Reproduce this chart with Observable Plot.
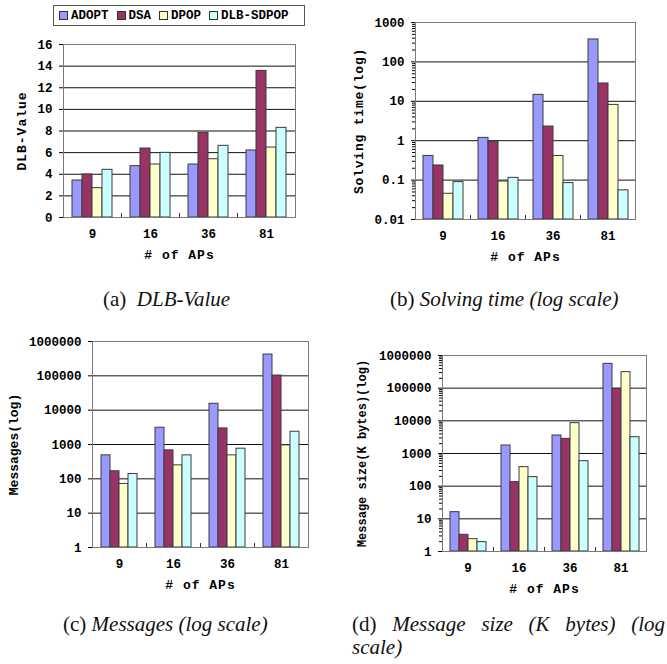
<!DOCTYPE html>
<html>
<head>
<meta charset="utf-8">
<script src="https://cdn.jsdelivr.net/npm/d3@7"></script>
<script src="https://cdn.jsdelivr.net/npm/@observablehq/plot@0.6"></script>
<style>
  html, body { margin: 0; padding: 0; background: #fff; }
  #root { position: relative; width: 667px; height: 664px; overflow: hidden; background: #fff; }
  .panel { position: absolute; }
  .panel svg { overflow: visible; }
  .panel g[aria-label="y-axis label"] text, .panel g[aria-label="fx-axis label"] text { font-size: 13px; }
  .pa g[aria-label="y-axis label"] text { letter-spacing: 1px; }
  .pb g[aria-label="y-axis label"] text { letter-spacing: 0.8px; }
  .pd g[aria-label="y-axis label"] text { font-size: 12px; }
  g[aria-label="fx-axis label"] text { letter-spacing: 1px; }
  .legend { position: absolute; left: 53px; top: 5px; width: 252px; height: 21px; box-sizing: border-box;
    border: 1px solid #555; display: flex; align-items: center; padding-left: 5px; white-space: nowrap;
    font: bold 12.5px "Liberation Mono", monospace; color: #000; }
  .legend .item { display: flex; align-items: center; margin-right: 8px; white-space: nowrap; flex-shrink: 0; }
  .legend .sw { width: 7px; height: 7px; border: 1px solid #333; margin-right: 3px; }
  .cap { position: absolute; font-family: "Liberation Serif", serif; font-size: 21px; line-height: 24px; color: #111; white-space: nowrap; }
  .cap .l1 { display: block; text-align: justify; text-align-last: justify; line-height: 23px; }
  .cap .l2 { display: block; line-height: 23px; }
</style>
</head>
<body>
<div id="root"></div>
<script>
const apCounts = ["9", "16", "36", "81"];
const algorithms = ["ADOPT", "DSA", "DPOP", "DLB-SDPOP"];
const algColors = ["#9999ff", "#993366", "#ffffcc", "#ccffff"];

// rows follow algorithms, columns follow apCounts
const dlbValues = [
  [3.42, 4.75, 4.9, 6.2],
  [3.98, 6.38, 7.83, 13.56],
  [2.71, 4.9, 5.39, 6.47],
  [4.41, 5.98, 6.63, 8.29]
];
const solvingTimes = [
  [0.41, 1.18, 14.6, 371],
  [0.235, 0.94, 2.29, 28.3],
  [0.045, 0.092, 0.41, 8.1],
  [0.089, 0.114, 0.084, 0.055]
];
const messageCounts = [
  [483, 3080, 15350, 417000],
  [166, 675, 2940, 102000],
  [71, 247, 483, 944],
  [138, 483, 755, 2355]
];
const messageSizes = [
  [16, 1758, 3556, 556000],
  [3.24, 133, 2810, 95400],
  [2.39, 382, 8490, 309000],
  [1.93, 189, 582, 3160]
];

const dlbTicks = [0, 2, 4, 6, 8, 10, 12, 14, 16];
const timeTicks = [0.01, 0.1, 1, 10, 100, 1000];
const countTicks = [1, 10, 100, 1000, 10000, 100000, 1000000];

const xLabel = "# of APs";
const yLabels = ["DLB-Value", "Solving time(log)", "Messages(log)", "Message size(K bytes)(log)"];
const captions = [
  ["(a)\u00a0 ", "DLB-Value", ""],
  ["(b) ", "Solving time (log scale)", ""],
  ["(c) ", "Messages (log scale)", ""],
  ["(d) ", "Message size (K bytes) (log", "scale)"]
];

const root = document.getElementById("root");

// legend
const legend = document.createElement("div");
legend.className = "legend";
algorithms.forEach((a, i) => {
  const it = document.createElement("div");
  it.className = "item";
  const sw = document.createElement("span");
  sw.className = "sw";
  sw.style.background = algColors[i];
  it.appendChild(sw);
  it.appendChild(document.createTextNode(a));
  legend.appendChild(it);
});
root.appendChild(legend);

function fmt(d) { return d < 1 ? String(d) : d3.format("d")(d); }

function panel({values, ticks, type, ylabel, minor, box, m, lyo, cls}) {
  const rows = algorithms.flatMap((alg, i) => apCounts.map((ap, j) => ({ap, alg, value: values[i][j]})));
  const base = ticks[0];
  const plotH = box.h - m.t - m.b;
  const marks = [
    Plot.ruleY(ticks, {stroke: "#111", strokeWidth: 1}),
    Plot.barY(rows, {fx: "ap", x: "alg", y1: base, y2: "value", fill: "alg", stroke: "#3a3a3a", strokeWidth: 1}),
    Plot.frame({anchor: "left", insetTop: plotH - 4, stroke: "#333"}),
    Plot.frame({facet: "super", stroke: "#7a7a7a"}),
    Plot.axisY(ticks, {tickSize: 4, tickPadding: 7, tickFormat: fmt, label: ylabel, labelAnchor: "center", labelArrow: "none", labelOffset: lyo}),
    Plot.axisFx({anchor: "bottom", tickSize: 0, tickPadding: 12, label: xLabel, labelAnchor: "center", labelArrow: "none", labelOffset: 41})
  ];
  if (minor) marks.push(Plot.axisY(minor, {tickSize: 3, tickFormat: () => "", label: null}));
  const chart = Plot.plot({
    width: box.w, height: box.h,
    marginLeft: m.l, marginRight: m.r, marginTop: m.t, marginBottom: m.b,
    style: {fontFamily: "'Liberation Mono', monospace", fontSize: "12.5px", fontWeight: "bold", color: "#000", background: "transparent"},
    fx: {domain: apCounts, padding: 0},
    x: {domain: algorithms, paddingInner: 0, paddingOuter: 0.74, axis: null},
    y: {type, domain: [ticks[0], ticks[ticks.length - 1]]},
    color: {domain: algorithms, range: algColors},
    marks
  });
  const wrap = document.createElement("div");
  wrap.className = "panel " + cls;
  wrap.style.left = box.x + "px";
  wrap.style.top = box.y + "px";
  wrap.appendChild(chart);
  root.appendChild(wrap);
}

const timeMinor = d3.scaleLog().domain([0.01, 1000]).ticks().filter(t => !timeTicks.includes(t));
const countMinor = d3.scaleLog().domain([1, 1000000]).ticks().filter(t => !countTicks.includes(t));

panel({values: dlbValues, ticks: dlbTicks, type: "linear", ylabel: yLabels[0], cls: "pa",
  box: {x: 0, y: 30, w: 333, h: 240}, m: {l: 62, r: 38, t: 14, b: 53}, lyo: 47});
panel({values: solvingTimes, ticks: timeTicks, type: "log", ylabel: yLabels[1], minor: timeMinor, cls: "pb",
  box: {x: 333, y: 0, w: 334, h: 270}, m: {l: 80, r: 31, t: 22, b: 51}, lyo: 62});
panel({values: messageCounts, ticks: countTicks, type: "log", ylabel: yLabels[2], cls: "pc",
  box: {x: 0, y: 330, w: 333, h: 270}, m: {l: 91, r: 24, t: 11, b: 53}, lyo: 84});
panel({values: messageSizes, ticks: countTicks, type: "log", ylabel: yLabels[3], minor: countMinor, cls: "pd",
  box: {x: 333, y: 330, w: 334, h: 270}, m: {l: 107, r: 20, t: 25, b: 49}, lyo: 85});

// captions
const capPos = [
  {x: 103, y: 287}, {x: 390, y: 287}, {x: 63, y: 612}, {x: 352, y: 613, w: 313}
];
captions.forEach(([lead, txt, rest], i) => {
  const c = document.createElement("div");
  c.className = "cap";
  c.style.left = capPos[i].x + "px";
  c.style.top = capPos[i].y + "px";
  const it = document.createElement("i");
  it.textContent = txt;
  if (rest) {
    c.style.width = capPos[i].w + "px";
    const l1 = document.createElement("span");
    l1.className = "l1";
    l1.appendChild(document.createTextNode(lead));
    l1.appendChild(it);
    const l2 = document.createElement("i");
    l2.className = "l2";
    l2.textContent = rest;
    c.appendChild(l1);
    c.appendChild(l2);
  } else {
    c.appendChild(document.createTextNode(lead));
    c.appendChild(it);
  }
  root.appendChild(c);
});
</script>
</body>
</html>
